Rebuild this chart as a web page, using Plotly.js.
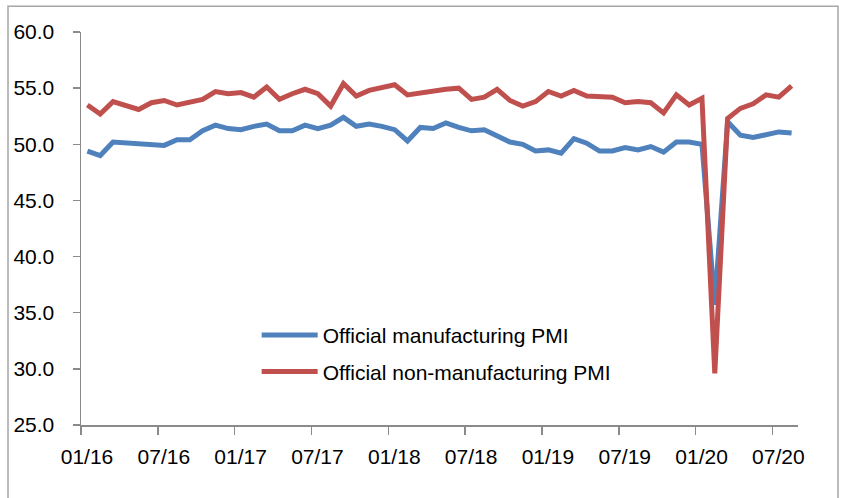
<!DOCTYPE html>
<html>
<head>
<meta charset="utf-8">
<script src="https://cdn.plot.ly/plotly-3.0.1.min.js"></script>
<style>
  html, body { margin: 0; padding: 0; background: #fff; }
  #chart { width: 841px; height: 498px; }
</style>
</head>
<body>
<div id="chart"></div>
<script>
// Months Jan 2016 .. Aug 2020
const months = [
  '2016-01','2016-02','2016-03','2016-04','2016-05','2016-06','2016-07','2016-08','2016-09','2016-10','2016-11','2016-12',
  '2017-01','2017-02','2017-03','2017-04','2017-05','2017-06','2017-07','2017-08','2017-09','2017-10','2017-11','2017-12',
  '2018-01','2018-02','2018-03','2018-04','2018-05','2018-06','2018-07','2018-08','2018-09','2018-10','2018-11','2018-12',
  '2019-01','2019-02','2019-03','2019-04','2019-05','2019-06','2019-07','2019-08','2019-09','2019-10','2019-11','2019-12',
  '2020-01','2020-02','2020-03','2020-04','2020-05','2020-06','2020-07','2020-08'
];

const manufacturingPMI = [
  49.4, 49.0, 50.2, 50.1, 50.1, 50.0, 49.9, 50.4, 50.4, 51.2, 51.7, 51.4,
  51.3, 51.6, 51.8, 51.2, 51.2, 51.7, 51.4, 51.7, 52.4, 51.6, 51.8, 51.6,
  51.3, 50.3, 51.5, 51.4, 51.9, 51.5, 51.2, 51.3, 50.8, 50.2, 50.0, 49.4,
  49.5, 49.2, 50.5, 50.1, 49.4, 49.4, 49.7, 49.5, 49.8, 49.3, 50.2, 50.2,
  50.0, 35.7, 52.0, 50.8, 50.6, 50.9, 51.1, 51.0
];

const nonManufacturingPMI = [
  53.5, 52.7, 53.8, 53.5, 53.1, 53.7, 53.9, 53.5, 53.7, 54.0, 54.7, 54.5,
  54.6, 54.2, 55.1, 54.0, 54.5, 54.9, 54.5, 53.4, 55.4, 54.3, 54.8, 55.0,
  55.3, 54.4, 54.6, 54.8, 54.9, 55.0, 54.0, 54.2, 54.9, 53.9, 53.4, 53.8,
  54.7, 54.3, 54.8, 54.3, 54.3, 54.2, 53.7, 53.8, 53.7, 52.8, 54.4, 53.5,
  54.1, 29.6, 52.3, 53.2, 53.6, 54.4, 54.2, 55.2
];

const seriesNames = ['Official manufacturing PMI', 'Official non-manufacturing PMI'];
const tickLabels = ['01/16','07/16','01/17','07/17','01/18','07/18','01/19','07/19','01/20','07/20'];
const yTicks = [25, 30, 35, 40, 45, 50, 55, 60];

const xIdx = months.map((m, i) => i);
// category boundaries every 6 months (labels shifted onto the category centres)
const tickPos = tickLabels.map((t, k) => k * 6 - 0.5);

const fontFam = 'Liberation Sans, Arial, sans-serif';
const axisCol = '#8a8a8a';

const traces = [
  {
    x: xIdx, y: manufacturingPMI, customdata: months,
    type: 'scatter', mode: 'lines', name: seriesNames[0], legendgroup: 'a',
    line: { color: '#4F81BD', width: 5, shape: 'linear' },
    hovertemplate: '%{customdata}: %{y:.1f}<extra></extra>'
  },
  {
    x: xIdx, y: nonManufacturingPMI, customdata: months,
    type: 'scatter', mode: 'lines', name: seriesNames[1], legendgroup: 'b',
    line: { color: '#C0504D', width: 5, shape: 'linear' },
    hovertemplate: '%{customdata}: %{y:.1f}<extra></extra>'
  }
];

const layout = {
  width: 841, height: 498,
  margin: { l: 81, r: 43, t: 32, b: 73 },
  paper_bgcolor: '#ffffff', plot_bgcolor: '#ffffff',
  font: { family: fontFam, size: 21, color: '#000000' },
  showlegend: true,
  legend: {
    x: 0.245, xanchor: 'left', y: 0.28, yanchor: 'top',
    bgcolor: 'rgba(0,0,0,0)', borderwidth: 0,
    font: { family: fontFam, size: 21, color: '#000' },
    traceorder: 'grouped', tracegroupgap: 6, itemwidth: 56
  },
  xaxis: {
    range: [-0.5, months.length - 0.5],
    tickmode: 'array', tickvals: tickPos, ticktext: tickLabels,
    ticks: 'outside', ticklen: 8, tickwidth: 1.5, tickcolor: axisCol,
    ticklabelshift: 6, ticklabelstandoff: 4,
    showline: true, linecolor: axisCol, linewidth: 1.5,
    showgrid: false, zeroline: false, fixedrange: true,
    tickfont: { family: fontFam, size: 21, color: '#000' }
  },
  yaxis: {
    range: [25, 60],
    tickmode: 'array', tickvals: yTicks, tickformat: '.1f',
    ticks: 'outside', ticklen: 7, tickwidth: 1.5, tickcolor: axisCol,
    ticklabelstandoff: 14,
    showline: true, linecolor: axisCol, linewidth: 1.5,
    showgrid: false, zeroline: false, fixedrange: true,
    tickfont: { family: fontFam, size: 21, color: '#000' }
  },
  shapes: [
    {
      type: 'rect', xref: 'paper', yref: 'paper',
      x0: -0.1018, x1: 1.0558, y0: -0.25, y1: 1.0654,
      line: { color: '#a6a6a6', width: 1.5 }, fillcolor: 'rgba(0,0,0,0)', layer: 'below'
    }
  ]
};

Plotly.newPlot('chart', traces, layout, { displayModeBar: false, staticPlot: true });
</script>
</body>
</html>
